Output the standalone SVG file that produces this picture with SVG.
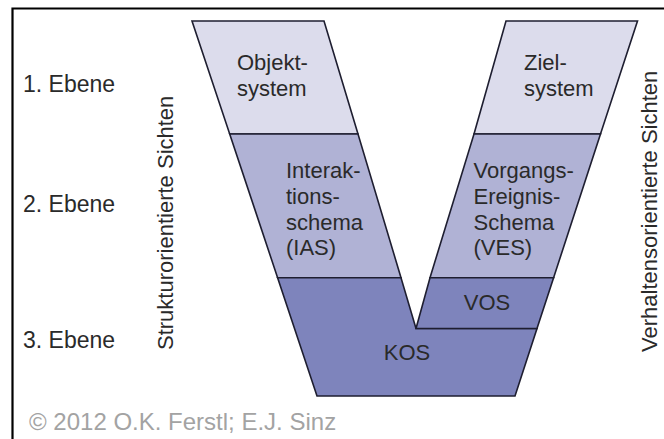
<svg xmlns="http://www.w3.org/2000/svg" width="664" height="439" viewBox="0 0 664 439">
  <style>
    .lbl { font-family: "Liberation Sans", Arial, sans-serif; font-size: 22px; fill: #2a2a2a; }
    .lvl { font-family: "Liberation Sans", Arial, sans-serif; font-size: 23px; fill: #2a2a2a; }
    .copy { font-family: "Liberation Sans", Arial, sans-serif; font-size: 24px; fill: #a3a3a3; }
    .shape { stroke: #1e1e30; stroke-width: 1.6; stroke-linejoin: miter; }
    .l1 { fill: #dcdcec; }
    .l2 { fill: #b0b2d5; }
    .l3 { fill: #7e84bc; }
  </style>
  <rect width="664" height="439" fill="#ffffff"/>
  <!-- frame: top and left edges -->
  <path d="M12.5,439 V8.5 H664" fill="none" stroke="#000" stroke-width="2.2"/>

  <!-- level labels -->
  <g id="levels">
    <text class="lvl" x="23" y="92">1. Ebene</text>
    <text class="lvl" x="23" y="212">2. Ebene</text>
    <text class="lvl" x="23" y="348">3. Ebene</text>
  </g>

  <!-- side captions -->
  <text class="lbl" transform="translate(173,350) rotate(-90)">Strukturorientierte Sichten</text>
  <text class="lbl" transform="translate(657,352) rotate(-90)">Verhaltensorientierte Sichten</text>

  <!-- left arm: structure views -->
  <g id="objektsystem">
    <polygon class="shape l1" points="192,21 324,21 358,134 229.7,134"/>
    <text class="lbl" x="237" y="70">Objekt-</text>
    <text class="lbl" x="237" y="96">system</text>
  </g>
  <g id="ias">
    <polygon class="shape l2" points="229.7,134 358,134 401,277.7 277.6,277.7"/>
    <text class="lbl" x="286" y="178">Interak-</text>
    <text class="lbl" x="286" y="204">tions-</text>
    <text class="lbl" x="286" y="230">schema</text>
    <text class="lbl" x="286" y="255">(IAS)</text>
  </g>
  <g id="kos">
    <polygon class="shape l3" points="277.6,277.7 401,277.7 416,328.5 537,328.5 515,396 317,396"/>
    <text class="lbl" x="407" y="360" text-anchor="middle">KOS</text>
  </g>

  <!-- right arm: behaviour views -->
  <g id="zielsystem">
    <polygon class="shape l1" points="506,21 637.5,21 600.5,134 474,134"/>
    <text class="lbl" x="524" y="70">Ziel-</text>
    <text class="lbl" x="524" y="96">system</text>
  </g>
  <g id="ves">
    <polygon class="shape l2" points="474,134 600.5,134 553.6,277.7 430,277.7"/>
    <text class="lbl" x="473.5" y="178">Vorgangs-</text>
    <text class="lbl" x="473.5" y="204">Ereignis-</text>
    <text class="lbl" x="473.5" y="230">Schema</text>
    <text class="lbl" x="473.5" y="255">(VES)</text>
  </g>
  <g id="vos">
    <polygon class="shape l3" points="430,277.7 553.6,277.7 537,328.5 416,328.5"/>
    <text class="lbl" x="487" y="310" text-anchor="middle">VOS</text>
  </g>

  <g id="connectors"></g>

  <text class="copy" x="29" y="430">© 2012 O.K. Ferstl; E.J. Sinz</text>
</svg>
